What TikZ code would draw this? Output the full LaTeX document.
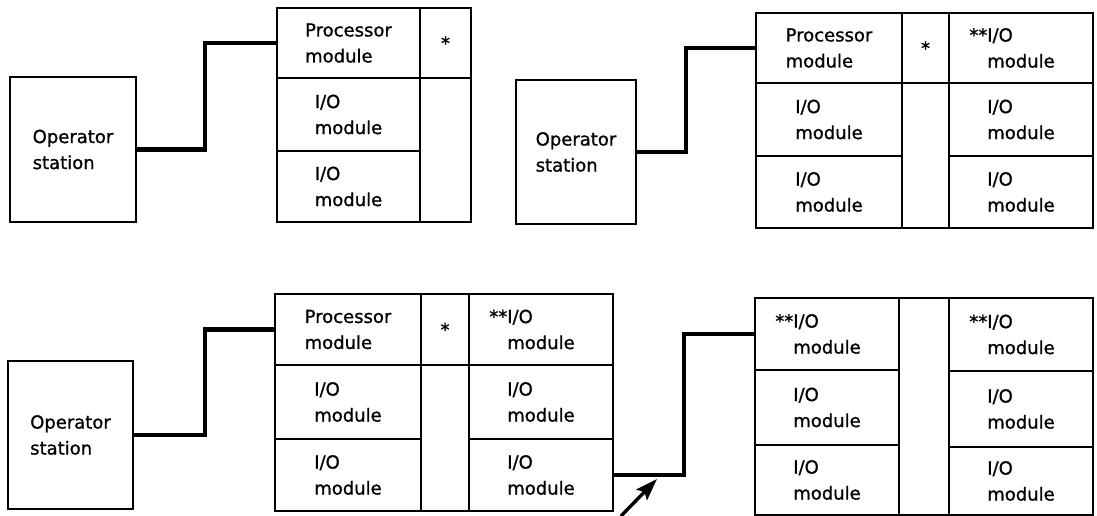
\documentclass[tikz,border=0pt]{standalone}
\usepackage{fontspec}
\setmainfont{DejaVu Sans}[FakeBold=1]
\usepackage{tikz}
\usetikzlibrary{arrows.meta}

\tikzset{
  station/.style={draw,line width=2pt,anchor=north west,inner sep=0pt,align=left},
  cell/.style={draw,line width=2pt,anchor=north west,inner sep=0pt,align=left},
  link/.style={line width=4.5pt},
  pointer/.style={line width=3.4pt,-{Stealth[length=22pt,width=15pt,inset=4pt]}}
}

\begin{document}
\begin{tikzpicture}[x=1pt,y=-1pt,font=\fontsize{18}{26}\selectfont]
\useasboundingbox (0,0) rectangle (1097,516);
% top left
\node[station,minimum width=126pt,minimum height=145pt] (os1) at (9,76) {Operator\\station};
\node[cell,minimum width=143pt,minimum height=70pt] (p1) at (276,7) {Processor\\module};
\node[cell,minimum width=51pt,minimum height=70pt] (s1) at (419,7) {*};
\node[cell,minimum width=143pt,minimum height=73pt] (a1) at (276,77) {I/O\\module};
\node[cell,minimum width=143pt,minimum height=71pt] (b1) at (276,150) {I/O\\module};
\node[cell,minimum width=51pt,minimum height=144pt] (e1) at (419,77) {};
\draw[link] (os1.east) -- ++(68,0) |- (p1.west);
% top right
\node[station,minimum width=120pt,minimum height=144pt] (os2) at (515,79) {Operator\\station};
\node[cell,minimum width=146pt,minimum height=70pt] (p2) at (755,12) {Processor\\module};
\node[cell,minimum width=47pt,minimum height=70pt] (s2) at (901,12) {*};
\node[cell,minimum width=144pt,minimum height=70pt] (c2) at (948,12) {\llap{**}I/O\\module};
\node[cell,minimum width=146pt,minimum height=73pt] (a2) at (755,82) {I/O\\module};
\node[cell,minimum width=146pt,minimum height=72pt] (b2) at (755,155) {I/O\\module};
\node[cell,minimum width=47pt,minimum height=145pt] (e2) at (901,82) {};
\node[cell,minimum width=144pt,minimum height=73pt] (d2) at (948,82) {I/O\\module};
\node[cell,minimum width=144pt,minimum height=72pt] (f2) at (948,155) {I/O\\module};
\draw[link] (os2.east) -- ++(49,0) |- (p2.west);
% bottom left
\node[station,minimum width=125pt,minimum height=148pt] (os3) at (7,360) {Operator\\station};
\node[cell,minimum width=146pt,minimum height=71pt] (p3) at (274,293) {Processor\\module};
\node[cell,minimum width=48pt,minimum height=71pt] (s3) at (420,293) {*};
\node[cell,minimum width=144pt,minimum height=71pt] (c3) at (468,293) {\llap{**}I/O\\module};
\node[cell,minimum width=146pt,minimum height=74pt] (a3) at (274,364) {I/O\\module};
\node[cell,minimum width=146pt,minimum height=72pt] (b3) at (274,438) {I/O\\module};
\node[cell,minimum width=48pt,minimum height=146pt] (e3) at (420,364) {};
\node[cell,minimum width=144pt,minimum height=74pt] (d3) at (468,364) {I/O\\module};
\node[cell,minimum width=144pt,minimum height=72pt] (f3) at (468,438) {I/O\\module};
\draw[link] (os3.east) -- ++(71,0) |- (p3.west);
% bottom right, extension rack
\node[cell,minimum width=144pt,minimum height=72pt] (g4) at (754,297) {\llap{**}I/O\\module};
\node[cell,minimum width=144pt,minimum height=75pt] (h4) at (754,369) {I/O\\module};
\node[cell,minimum width=144pt,minimum height=70pt] (i4) at (754,444) {I/O\\module};
\node[cell,minimum width=50pt,minimum height=217pt] (m4) at (898,297) {};
\node[cell,minimum width=144pt,minimum height=73pt] (j4) at (948,297) {\llap{**}I/O\\module};
\node[cell,minimum width=144pt,minimum height=76pt] (k4) at (948,370) {I/O\\module};
\node[cell,minimum width=144pt,minimum height=68pt] (l4) at (948,446) {I/O\\module};
\draw[link] (f3.east) -- ++(70,0) |- (g4.west);
\coordinate (tail) at (621,516);
\coordinate (hit) at (657,479);
\draw[pointer] (tail) -- (hit);
\end{tikzpicture}
\end{document}
